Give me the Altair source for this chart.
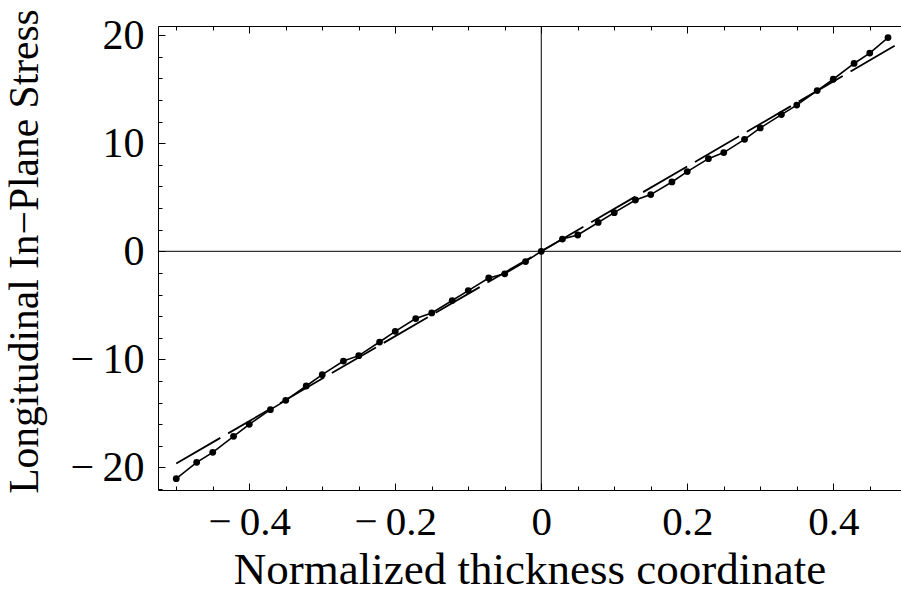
import altair as alt
import pandas as pd

# Solid curve with dots
x_pts = [-0.500, -0.472, -0.450, -0.4215, -0.400, -0.371, -0.350, -0.322, -0.300, -0.271,
         -0.250, -0.2215, -0.200, -0.172, -0.150, -0.122, -0.100, -0.072, -0.050, -0.0215,
         0.000, 0.029, 0.050, 0.078, 0.100, 0.129, 0.150, 0.179, 0.200, 0.229,
         0.250, 0.2785, 0.300, 0.329, 0.350, 0.378, 0.400, 0.4285, 0.450, 0.475]
y_pts = [-21.05, -19.54, -18.61, -17.13, -16.02, -14.66, -13.80, -12.47, -11.42, -10.16,
         -9.66, -8.40, -7.41, -6.23, -5.71, -4.56, -3.64, -2.47, -2.08, -0.95,
         0.00, 1.13, 1.51, 2.67, 3.58, 4.75, 5.25, 6.42, 7.38, 8.58,
         9.14, 10.37, 11.42, 12.66, 13.54, 14.88, 15.93, 17.39, 18.35, 19.79]

# Dashed straight line (end points)
dash_x = [-0.5, 0.5]
dash_y = [-19.65, 19.65]

# Ticks
x_major = [-0.4, -0.2, 0, 0.2, 0.4]
x_minor = [-0.5, -0.45, -0.4, -0.35, -0.3, -0.25, -0.2, -0.15, -0.1, -0.05, 0,
           0.05, 0.1, 0.15, 0.2, 0.25, 0.3, 0.35, 0.4, 0.45]
y_major = [-20, -10, 0, 10, 20]
y_minor = [-22, -20, -18, -16, -14, -12, -10, -8, -6, -4, -2, 0,
           2, 4, 6, 8, 10, 12, 14, 16, 18, 20]

FONT = "Liberation Serif"
W, H = 743, 464

pts = pd.DataFrame({"x": x_pts, "y": y_pts})
dsh = pd.DataFrame({"x": dash_x, "y": dash_y})
zero = pd.DataFrame({"v": [0]})

xs = alt.Scale(domain=[-0.525, 0.4928], nice=False, zero=False)
ys = alt.Scale(domain=[-22.1, 20.86], nice=False, zero=False)

x_lab = ("datum.value < 0 ? '\u2212\u2009' + format(-datum.value, '.1f') : "
         "(datum.value == 0 ? '0' : format(datum.value, '.1f'))")
y_lab = ("datum.value < 0 ? '\u2212\u2009' + format(-datum.value, 'd') : "
         "format(datum.value, 'd')")

main_x = alt.Axis(orient="bottom", values=x_major, labelExpr=x_lab, labelFont=FONT,
                  labelFontSize=41, labelColor="black", labelPadding=44,
                  labelBaseline="alphabetic", labelFlush=False, labelOverlap=False,
                  ticks=False, tickSize=0, domain=True, domainColor="black",
                  domainWidth=1, grid=False,
                  title="Normalized thickness coordinate", titleFont=FONT,
                  titleFontSize=45, titleFontWeight="normal", titleColor="black",
                  titleBaseline="alphabetic", titleY=93)
main_y = alt.Axis(orient="left", values=y_major, labelExpr=y_lab, labelFont=FONT,
                  labelFontSize=42, labelColor="black", labelPadding=14,
                  labelBaseline="middle", labelFlush=False, labelOverlap=False,
                  ticks=False, tickSize=0, domain=True, domainColor="black",
                  domainWidth=1, grid=False,
                  title="Longitudinal In\u2212Plane Stress", titleFont=FONT,
                  titleFontSize=41.5, titleFontWeight="normal", titleColor="black",
                  titleBaseline="alphabetic", titleAlign="center", titleAngle=270,
                  titleX=-121, titleY=225)


def tick_axis(orient, offset, values, size, domain=False):
    return alt.Axis(orient=orient, offset=offset, values=values, tickSize=size,
                    ticks=True, tickColor="black", tickWidth=1, labels=False,
                    domain=domain, domainColor="black", domainWidth=1,
                    grid=False, title="")


hrule = alt.Chart(zero).mark_rule(color="black", strokeWidth=1).encode(
    y=alt.Y("v:Q", scale=ys, axis=None))
vrule = alt.Chart(zero).mark_rule(color="black", strokeWidth=1).encode(
    x=alt.X("v:Q", scale=xs, axis=None))

dashed = alt.Chart(dsh).mark_line(color="black", strokeWidth=1.8,
                                  strokeDash=[51, 9], clip=True).encode(
    x=alt.X("x:Q", scale=xs, axis=main_x),
    y=alt.Y("y:Q", scale=ys, axis=main_y))

solid = alt.Chart(pts).mark_line(color="black", strokeWidth=1.6).encode(
    x=alt.X("x:Q", scale=xs, axis=tick_axis("top", -H, x_minor, 4)),
    y=alt.Y("y:Q", scale=ys, axis=tick_axis("right", -W, y_minor, 4)))

dots = alt.Chart(pts).mark_circle(color="black", size=46, opacity=1).encode(
    x=alt.X("x:Q", scale=xs, axis=tick_axis("top", -H, x_major, 7)),
    y=alt.Y("y:Q", scale=ys, axis=tick_axis("right", -W, y_major, 7)))

top_minor = alt.Chart(pts).mark_circle(opacity=0, size=1).encode(
    x=alt.X("x:Q", scale=xs, axis=tick_axis("bottom", -H, x_minor, 4, domain=True)),
    y=alt.Y("y:Q", scale=ys, axis=None))
top_major = alt.Chart(pts).mark_circle(opacity=0, size=1).encode(
    x=alt.X("x:Q", scale=xs, axis=tick_axis("bottom", -H, x_major, 7)),
    y=alt.Y("y:Q", scale=ys, axis=None))

chart = alt.layer(hrule, vrule, dashed, solid, dots, top_minor, top_major).resolve_axis(
    x="independent", y="independent"
).properties(
    width=W, height=H, background="white",
    autosize=alt.AutoSizeParams(type="none"),
    padding={"left": 158, "top": 26, "right": 0, "bottom": 114},
).configure_view(stroke=None)

chart.save("out.html", embed_options={"renderer": "svg", "actions": False})
